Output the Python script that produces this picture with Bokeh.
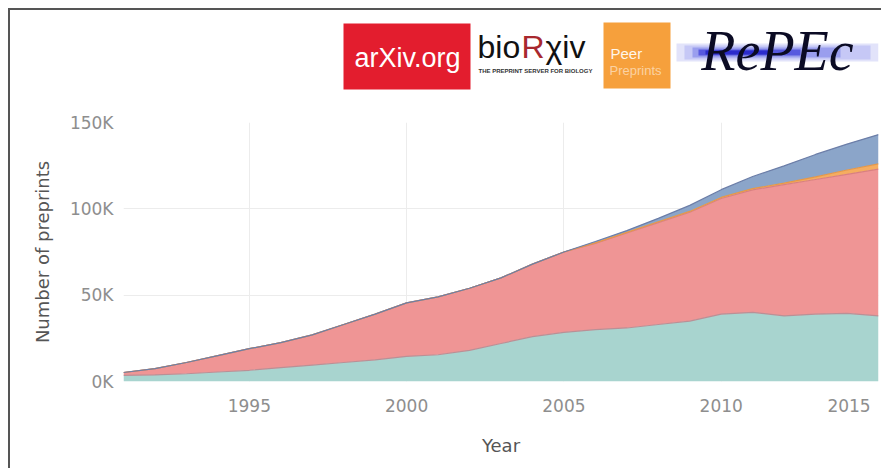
from bokeh.plotting import figure
from bokeh.layouts import column
from bokeh.models import ColumnDataSource, FixedTicker
from bokeh.core.properties import value
from bokeh.transform import stack
from bokeh.embed import file_html
from bokeh.resources import INLINE

# ---- data (number of preprints per year, stacked) ----
years = list(range(1991, 2016))
layer_a = [3500, 3800, 4500, 5500, 6500, 8000, 9500, 11000, 12500, 14500, 15500, 18000, 22000,
           26000, 28500, 30000, 31000, 33000, 35000, 39000, 40000, 38000, 39000, 39500, 38000]
layer_b = [1700, 3700, 6500, 9500, 12500, 14500, 17500, 22000, 26500, 31000, 33500, 36000, 38000,
           42000, 46500, 50000, 55000, 59000, 63000, 67000, 71000, 76000, 78000, 80500, 85000]
layer_c = [0, 0, 0, 0, 0, 0, 0, 0, 0, 0, 0, 0, 0,
           0, 0, 300, 400, 500, 500, 600, 700, 900, 1500, 2500, 3000]
layer_d = [0, 0, 0, 0, 0, 0, 0, 0, 0, 0, 0, 0, 0,
           0, 0, 800, 1000, 2000, 3500, 4500, 7000, 10000, 13000, 15000, 17000]

x_ticks = [1995, 2000, 2005, 2010, 2015]
x_tick_labels = ["1995", "2000", "2005", "2010", "2015" + "\u00a0" * 2]
x_grid = [1991, 1995, 2000, 2005, 2010]
y_ticks = [0, 50000, 100000, 150000]
y_tick_labels = ["0K", "50K", "100K", "150K"]

fill_colors = ["#a8d4cf", "#ef9595", "#f5ad60", "#8ba5c9"]
edge_colors = ["#b99096", "#d98080", "#e69848", "#6c7ea8"]
names = ["a", "b", "c", "d"]

W = 871
LOGO_H = 100
BL, BR = 113, 3

# ---- logo strip (decoration drawn as shapes and text, canvas-pixel coordinates) ----
lg = figure(width=W, height=LOGO_H, x_range=(BL, W - BR), y_range=(0, LOGO_H),
            output_backend="svg", toolbar_location=None,
            min_border_left=BL, min_border_right=BR, min_border_top=0, min_border_bottom=0)
lg.axis.visible = False
lg.grid.visible = False
lg.outline_line_color = None

# arXiv.org box
lg.quad(left=[333], right=[460], top=[87], bottom=[21], fill_color="#e31d2e", line_color=None)
lg.text(x=[397], y=[53], text=["arXiv.org"], text_align="center", text_baseline="middle",
        text_font=value("Liberation Sans"), text_font_size="27px", text_color="white")
# bioRxiv
bio_style = dict(text_align="left", text_baseline="middle", text_font=value("Liberation Sans"),
                 text_font_size="32px")
lg.text(x=[467], y=[64], text=["bio"], text_color="#111111", **bio_style)
lg.text(x=[511], y=[64], text=["R"], text_color="#a8282e", **bio_style)
lg.text(x=[535], y=[64], text=["χiv"], text_color="#111111", **bio_style)
lg.text(x=[468], y=[40], text=["THE PREPRINT SERVER FOR BIOLOGY"], text_align="left",
        text_baseline="middle", text_font=value("Liberation Sans"), text_font_size="6px",
        text_font_style="bold", text_color="#333333")
# PeerJ Preprints box
lg.quad(left=[593], right=[660], top=[88], bottom=[22], fill_color="#f6a03c", line_color=None)
lg.text(x=[600], y=[57], text=["Peer"], text_align="left", text_baseline="middle",
        text_font=value("Liberation Sans"), text_font_size="15px", text_color="#fff6ea")
lg.text(x=[599], y=[40], text=["Preprints"], text_align="left", text_baseline="middle",
        text_font=value("Liberation Sans"), text_font_size="13px", text_color="#fbd2a2")
# RePEc with soft blue glow
glow = [
    (666, W - BR, 67, 49, "#d5d7f8", 0.7),
    (674, 860, 65, 51, "#a9adf2", 0.5),
    (682, 830, 63, 53, "#6d73e6", 0.5),
    (688, 790, 61, 55, "#2b2bd6", 0.6),
    (695, 760, 60, 56, "#0d0dc0", 0.6),
]
for l, r, t, b, c, a in glow:
    lg.quad(left=[l], right=[r], top=[t], bottom=[b], fill_color=c, fill_alpha=a, line_color=None)
lg.text(x=[767], y=[60], text=["RePEc"], text_align="center", text_baseline="middle",
        text_font=value("Liberation Serif"), text_font_style="italic", text_font_size="56px",
        text_color="#0b0b24")

# ---- main chart ----
source = ColumnDataSource(dict(year=years, a=layer_a, b=layer_b, c=layer_c, d=layer_d))

p = figure(width=W, height=458 - LOGO_H, x_range=(1991, 2015), y_range=(0, 150000),
           output_backend="svg", toolbar_location=None,
           min_border_left=BL, min_border_right=BR, min_border_top=12, min_border_bottom=87)

p.varea_stack(names, x="year", color=fill_colors, source=source)
for i, col in enumerate(edge_colors):
    p.line(x="year", y=stack(*names[:i + 1]), line_color=col, line_width=1.2, source=source)

p.outline_line_color = None
p.xgrid.ticker = FixedTicker(ticks=x_grid)
p.ygrid.ticker = FixedTicker(ticks=y_ticks)
p.xgrid.grid_line_color = "#ececec"
p.ygrid.grid_line_color = "#ececec"

axis_font = "DejaVu Sans"
for ax in (p.xaxis[0], p.yaxis[0]):
    ax.axis_line_color = None
    ax.major_tick_line_color = None
    ax.minor_tick_line_color = None
    ax.major_tick_out = 0
    ax.major_tick_in = 0
    ax.minor_tick_out = 0
    ax.major_label_text_font = axis_font
    ax.major_label_text_font_size = "17px"
    ax.major_label_text_color = "#8e8e8e"
    ax.axis_label_text_font = axis_font
    ax.axis_label_text_font_size = "18px"
    ax.axis_label_text_font_style = "normal"
    ax.axis_label_text_color = "#555555"

p.xaxis.ticker = FixedTicker(ticks=x_ticks)
p.xaxis.major_label_overrides = {t: s for t, s in zip(x_ticks, x_tick_labels)}
p.xaxis.major_label_standoff = 14
p.xaxis.axis_label = "Year"
p.xaxis.axis_label_standoff = 16

p.yaxis.ticker = FixedTicker(ticks=y_ticks)
p.yaxis.major_label_overrides = {t: s for t, s in zip(y_ticks, y_tick_labels)}
p.yaxis.major_label_standoff = 10
p.yaxis.axis_label = "Number of preprints"
p.yaxis.axis_label_standoff = 14

page = column(lg, p, spacing=0,
              styles={"margin-left": "8px", "margin-top": "8px",
                      "border-left": "2px solid #555555", "border-top": "2px solid #555555"})

open("out.html", "w").write(file_html(page, INLINE))
